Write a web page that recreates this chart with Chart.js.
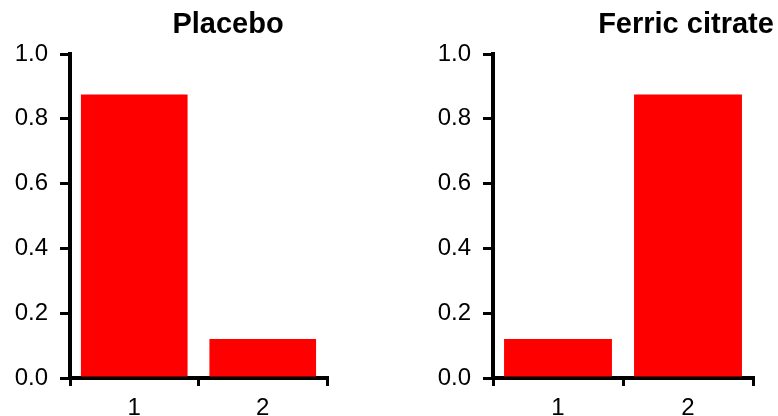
<!DOCTYPE html>
<html>
<head>
<meta charset="utf-8">
<script src="https://cdn.jsdelivr.net/npm/chart.js@4"></script>
<style>
  body { margin: 0; background: #fff; }
  .wrap { display: flex; width: 778px; height: 416px; }
  canvas { display: block; }
</style>
</head>
<body>
<div class="wrap">
  <canvas id="placeboChart" width="389" height="416"></canvas>
  <canvas id="ferricChart" width="389" height="416"></canvas>
</div>
<script>
const categories = ["1", "2"];
const placeboValues = [0.875, 0.12];
const ferricValues = [0.12, 0.875];
const yMin = 0;
const yMax = 1.0;
const yStep = 0.2;
const panelTitles = ["Placebo", "Ferric citrate"];

const FONT = "'Liberation Sans', Arial, sans-serif";

// draws the bold panel heading above the plot
const panelTitlePlugin = {
  id: "panelTitle",
  afterDraw(chart, args, opts) {
    const ctx = chart.ctx;
    ctx.save();
    ctx.font = "bold 29px " + FONT;
    ctx.fillStyle = "#000";
    ctx.textAlign = opts.align || "center";
    ctx.textBaseline = "middle";
    ctx.fillText(opts.text, opts.x, opts.y);
    ctx.restore();
  }
};

function makePanel(id, values, title, padLeft, padRight, titleX) {
  const ctx = document.getElementById(id).getContext("2d");
  return new Chart(ctx, {
    type: "bar",
    data: {
      labels: categories,
      datasets: [{
        data: values,
        backgroundColor: "#FF0000",
        borderWidth: 0,
        barPercentage: 0.83,
        categoryPercentage: 1.0
      }]
    },
    options: {
      responsive: false,
      animation: false,
      layout: { padding: { top: 54, left: padLeft, right: padRight, bottom: 0 } },
      plugins: {
        legend: { display: false },
        tooltip: { enabled: false },
        title: { display: false },
        panelTitle: { text: title, x: titleX, y: 25 }
      },
      scales: {
        x: {
          offset: true,
          grid: {
            offset: true,
            drawOnChartArea: false,
            drawTicks: true,
            tickLength: 8,
            tickWidth: 3,
            tickColor: "#000",
            lineWidth: 3
          },
          border: { display: true, color: "#000", width: 4 },
          ticks: {
            color: "#000",
            padding: 8,
            font: { family: FONT, size: 24 }
          },
          afterFit: (scale) => { scale.height = 38; }
        },
        y: {
          min: yMin,
          max: yMax,
          grid: {
            drawOnChartArea: false,
            drawTicks: true,
            tickLength: 10,
            tickWidth: 3,
            tickColor: "#000",
            lineWidth: 3
          },
          border: { display: true, color: "#000", width: 4 },
          ticks: {
            stepSize: yStep,
            color: "#000",
            padding: 12,
            font: { family: FONT, size: 24 },
            callback: (v) => Number(v).toFixed(1)
          },
          afterFit: (scale) => { scale.width = 70; }
        }
      }
    },
    plugins: [panelTitlePlugin]
  });
}

document.addEventListener("DOMContentLoaded", () => {
  makePanel("placeboChart", placeboValues, panelTitles[0], 0, 62, 228);
  makePanel("ferricChart", ferricValues, panelTitles[1], 34, 25, 297);
});
</script>
</body>
</html>
